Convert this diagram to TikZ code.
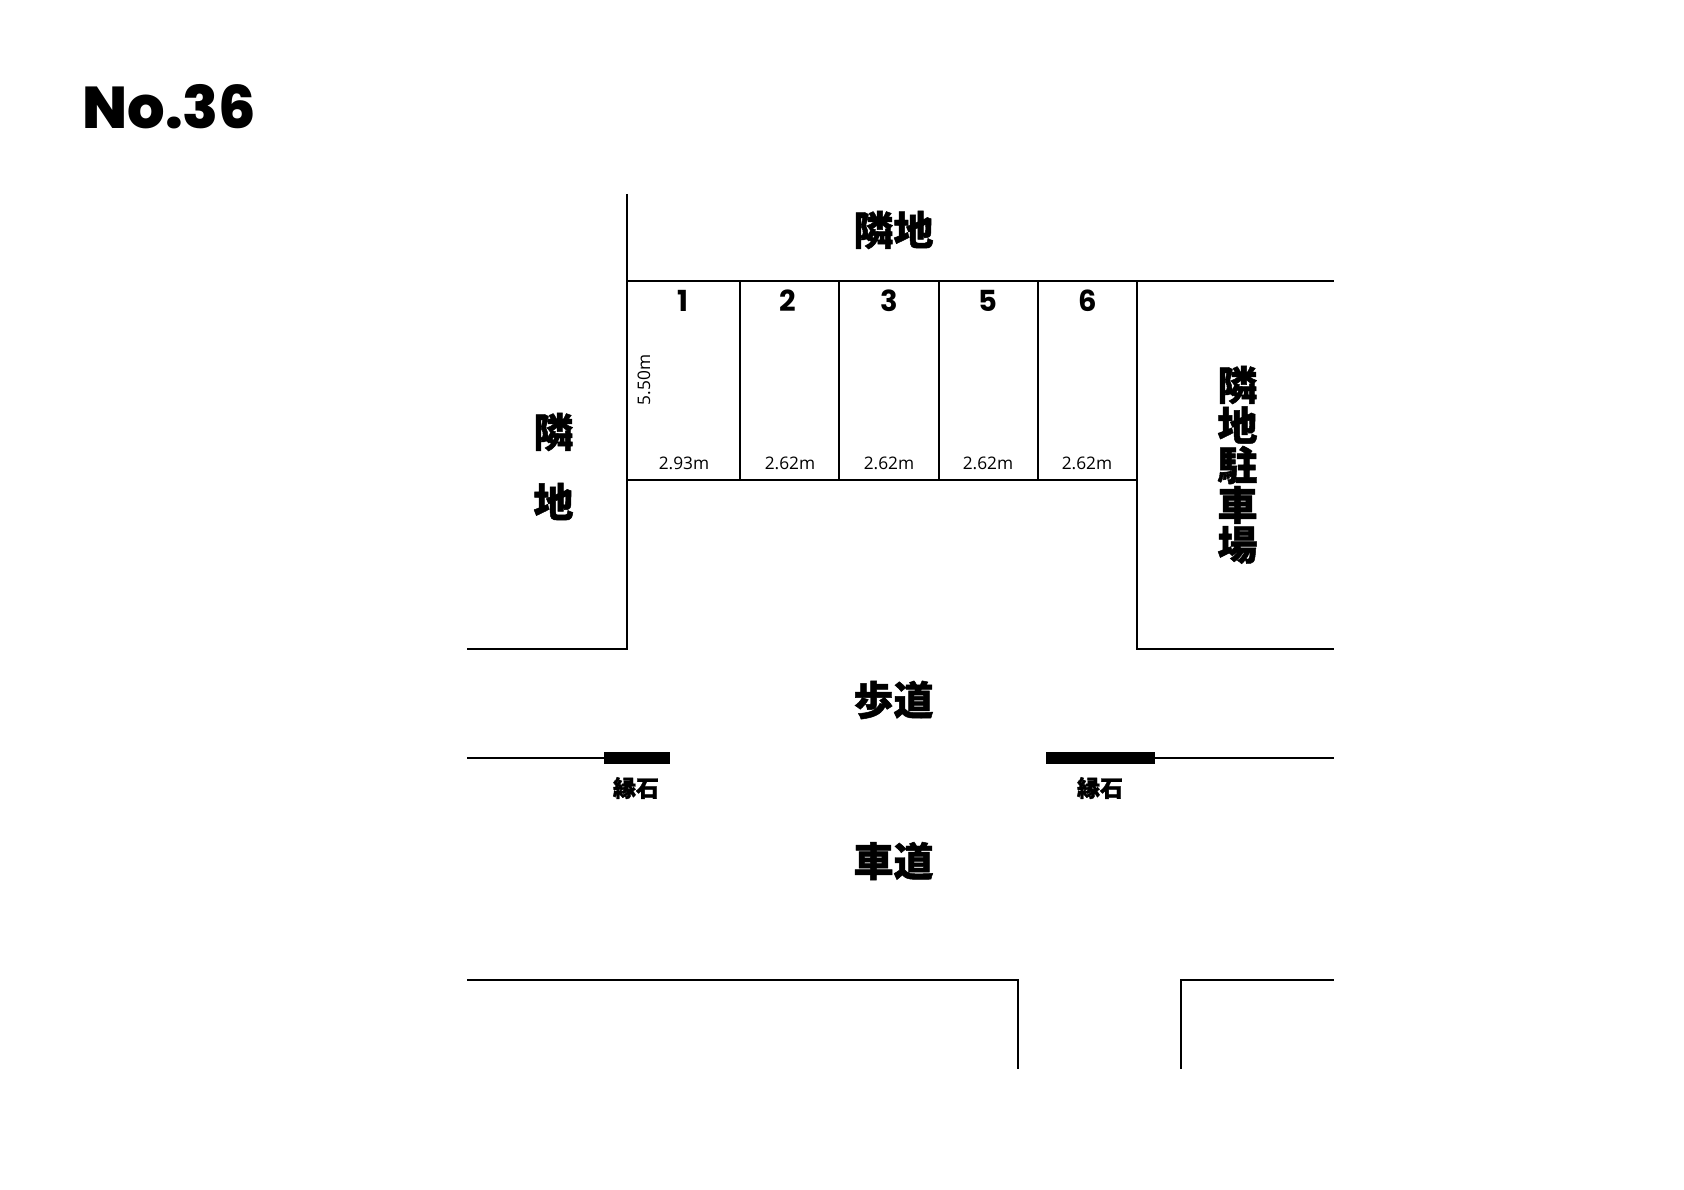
\documentclass[tikz,border=0pt]{standalone}
\usepackage{fontspec}
\newfontfamily\cjk{Noto Sans CJK JP Black}[FakeBold=1.2]
\newfontfamily\numfont{Poppins}[BoldFont=* ExtraBold]
\newfontfamily\lotfont{Poppins}
\newfontfamily\dimfont{Open Sans}
\begin{document}
\begin{tikzpicture}[x=1pt,y=-1pt, line join=miter, line width=2pt,
    bigtext/.style={font=\cjk\fontsize{40}{40}\selectfont,inner sep=0pt},
    curbtext/.style={font=\cjk\fontsize{23}{23}\selectfont,inner sep=0pt},
    lotnum/.style={font=\lotfont\bfseries\fontsize{29}{29}\selectfont,inner sep=0pt},
    dimtext/.style={font=\dimfont\fontsize{17.3}{17.3}\selectfont,inner sep=0pt}]
    \useasboundingbox (0,0) rectangle (1684,1190);
    \def\yt{281.5} \def\yb{480} \def\yr{649} \def\yc{757.5} \def\ys{980} \def\ye{1068.5}
    \def\xl{467} \def\xa{627} \def\xb{1137} \def\xr{1334}
    \node[font=\numfont\bfseries\fontsize{59}{59}\selectfont,inner sep=0pt] (title) at (169.5,107) {No.36};
    % lots
    \draw (\xa,194)--(\xa,\yr)--(\xl,\yr);
    \draw (\xa,\yt)--(\xr,\yt);
    \draw (\xa,\yb)--(\xb,\yb);
    \draw (\xb,\yt)--(\xb,\yr)--(\xr,\yr);
    \foreach \x in {740,839,938.5,1038} \draw (\x,\yt)--(\x,\yb);
    \foreach \x/\n/\w/\xd in {682.5/1/2.93m/684,788/2/2.62m/790,889/3/2.62m/889,988/5/2.62m/988,1088/6/2.62m/1087}{
        \node[lotnum] (lot\n) at (\x,300.5) {\n};
        \node[dimtext] (dim\n) at (\xd,463) {\w};
    }
    \node[dimtext,rotate=90] (depth) at (644,380) {5.50m};
    % road
    \draw (\xl,\yc)--(604,\yc);
    \draw (1154,\yc)--(\xr,\yc);
    \fill (604,752) rectangle (669.5,763.5);
    \fill (1046,752) rectangle (1154.5,763.5);
    \draw (\xl,\ys)--(1018,\ys)--(1018,\ye);
    \draw (1181,\ye)--(1181,\ys)--(\xr,\ys);
    % labels
    \node[bigtext] (top) at (893.5,230) {隣地};
    \node[bigtext] (left1) at (553.5,432) {隣};
    \node[bigtext] (left2) at (553.5,501.5) {地};
    \foreach \y/\t in {385/隣,425/地,465/駐,505/車,545/場} \node[bigtext] (park\y) at (1237.5,\y) {\t};
    \node[bigtext] (walk) at (893.5,700) {歩道};
    \node[bigtext] (road) at (893.5,861) {車道};
    \node[curbtext] (curb1) at (636,788) {縁石};
    \node[curbtext] (curb2) at (1100,788) {縁石};
\end{tikzpicture}
\end{document}
